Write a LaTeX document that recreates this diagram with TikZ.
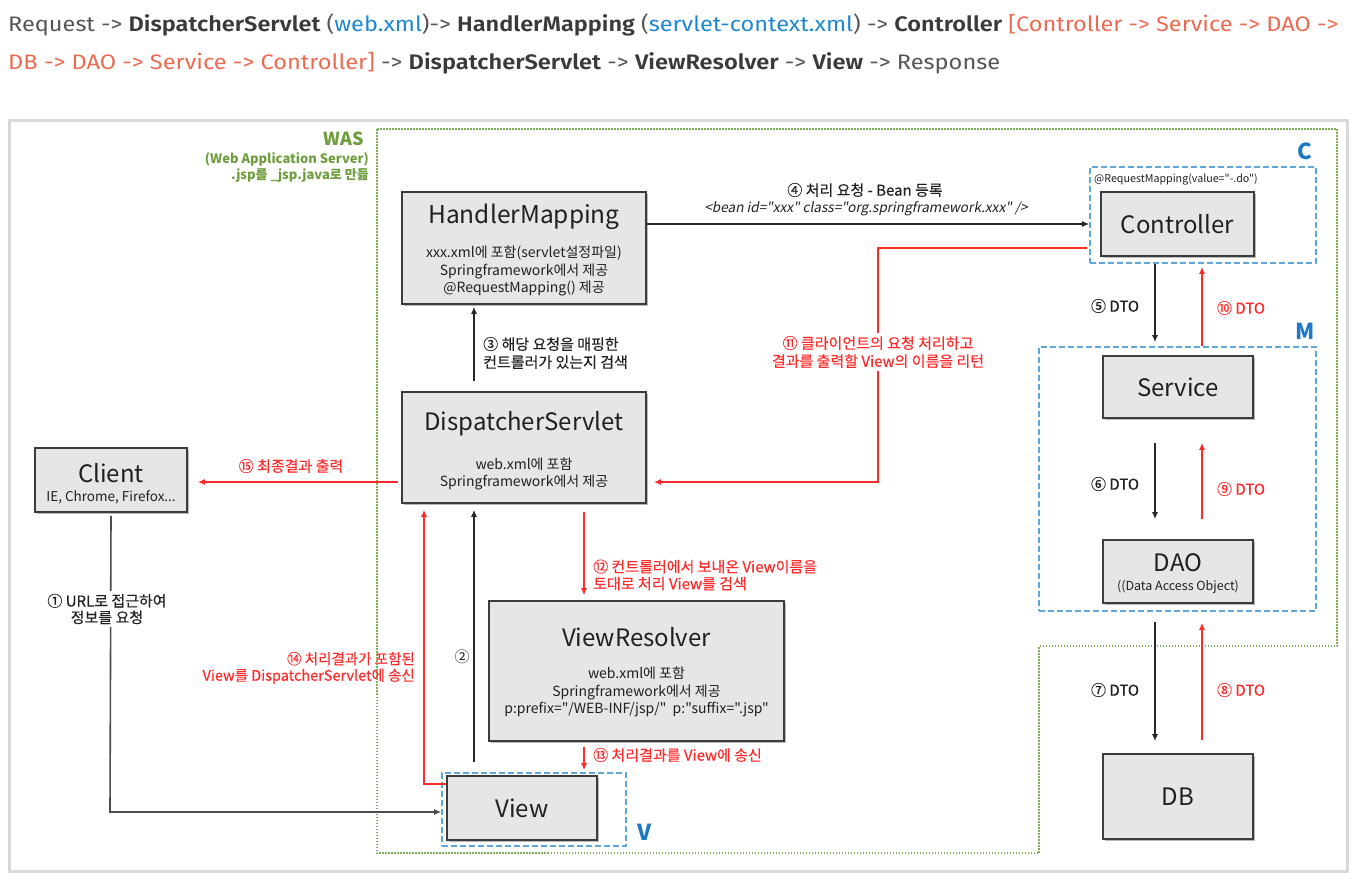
\documentclass[tikz,border=0pt]{standalone}
\usepackage{fontspec}
\usepackage{graphicx}
\setmainfont{Noto Sans CJK KR}
\newfontfamily\topf[BoldFont={Fira Sans SemiBold}]{Fira Sans}
\newfontfamily\kr{Noto Sans CJK KR}
\newfontfamily\krb[FakeBold=0.3]{Noto Sans CJK KR}
\newfontfamily\krit[FakeSlant=0.2]{Noto Sans CJK KR}
\usetikzlibrary{arrows.meta,shadows}
\definecolor{tg}{HTML}{555555}
\definecolor{tb}{HTML}{3A3A3A}
\definecolor{tblue}{HTML}{1E88D0}
\definecolor{tred}{HTML}{EC6A50}
\definecolor{framec}{HTML}{D8D8D8}
\definecolor{wasg}{HTML}{6E9E3E}
\definecolor{wasdot}{HTML}{7DAF58}
\definecolor{boxf}{HTML}{E6E6E6}
\definecolor{boxd}{HTML}{3C3C3C}
\definecolor{dblue}{HTML}{5DA7DC}
\definecolor{lblue}{HTML}{1D79C6}
\definecolor{rd}{HTML}{FF2A2A}
\definecolor{txt}{HTML}{202020}
\begin{document}
\begin{tikzpicture}[x=1pt,y=-1pt,
  gbox/.style={draw=boxd, fill=boxf, line width=1.6pt, inner sep=0pt, drop shadow={shadow xshift=1.5pt, shadow yshift=-1.5pt, fill=black!45, opacity=0.6}},
  bdash/.style={draw=dblue, dash pattern=on 6pt off 3pt, line width=1.6pt, inner sep=0pt},
  ttl/.style={font=\kr\fontsize{24}{28}\selectfont, text=txt, inner sep=0pt},
  sub/.style={font=\kr\fontsize{14}{17.5}\selectfont, align=center, text=txt, inner sep=0pt},
  blk/.style={draw=black!85, line width=1.3pt, -{Latex[length=7pt,width=6pt]}},
  redl/.style={draw=rd, line width=1.3pt, -{Latex[length=7pt,width=6pt]}},
  lbl/.style={font=\krb\fontsize{15}{18}\selectfont, text=txt, inner sep=1pt},
  rlbl/.style={lbl, text=rd},
  lettr/.style={font=\kr\bfseries\fontsize{22}{26}\selectfont, text=lblue, inner sep=0pt}
]
\useasboundingbox (0,0) rectangle (1370,883);
% header text
\node[anchor=west, inner sep=0pt] (line1) at (8,25) {\resizebox{1330pt}{\height}{\topf\fontsize{21}{25}\selectfont\color{tg}Request -> {\bfseries\color{tb}DispatcherServlet} ({\color{tblue}web.xml})-> {\bfseries\color{tb}HandlerMapping} ({\color{tblue}servlet-context.xml}) -> {\bfseries\color{tb}Controller} {\color{tred}[Controller -> Service -> DAO ->}}};
\node[anchor=west, inner sep=0pt] (line2) at (8,63) {\resizebox{992pt}{\height}{\topf\fontsize{21}{25}\selectfont\color{tg}{\color{tred}DB -> DAO -> Service -> Controller]} -> {\bfseries\color{tb}DispatcherServlet} -> {\bfseries\color{tb}ViewResolver} -> {\bfseries\color{tb}View} -> Response}};
% outer frame
\draw[draw=framec, line width=3pt] (9,120) rectangle (1347,871);
% WAS region
\draw[draw=wasdot, line width=1.5pt, dash pattern=on 1.5pt off 1.5pt] (377,129) -- (1337,129) -- (1337,646) -- (1039,646) -- (1039,853) -- (377,853) -- cycle;
\node[anchor=east, font=\kr\bfseries\fontsize{18}{20}\selectfont, text=wasg, inner sep=0pt] (was) at (364,139) {WAS};
\node[anchor=north east, align=right, font=\kr\bfseries\fontsize{13}{16}\selectfont, text=wasg, inner sep=0pt] (wasd) at (369,152) {(Web Application Server)\\.jsp를 \_jsp.java로 만듦};
% dashed groups
\node[bdash, minimum width=226, minimum height=96] (cdash) at (1203,215) {};
\node[bdash, minimum width=277, minimum height=264] (mdash) at (1177.5,479) {};
\node[bdash, minimum width=184, minimum height=73] (vdash) at (534,809.5) {};
\node[lettr] (cl) at (1305,151) {C};
\node[lettr] (ml) at (1305,331) {M};
\node[lettr] (vl) at (645,832) {V};
\node[anchor=west, font=\kr\fontsize{10.7}{12}\selectfont, text=txt, inner sep=0pt] (rmap) at (1094,179) {@RequestMapping(value="-.do")};
% boxes
\node[gbox, minimum width=244, minimum height=112] (hm) at (524,248) {};
\node[gbox, minimum width=244, minimum height=111] (ds) at (524,447.5) {};
\node[gbox, minimum width=152, minimum height=64] (client) at (111,480) {};
\node[gbox, minimum width=295, minimum height=140] (vr) at (636.5,671) {};
\node[gbox, minimum width=150, minimum height=64] (view) at (522,808) {};
\node[gbox, minimum width=153, minimum height=64] (ctrl) at (1177.5,224) {};
\node[gbox, minimum width=150, minimum height=62] (svc) at (1178,387) {};
\node[gbox, minimum width=150, minimum height=63] (dao) at (1178,571.5) {};
\node[gbox, minimum width=150, minimum height=85] (db) at (1178,796.5) {};
% box texts
\node[ttl, font=\kr\fontsize{24.5}{28}\selectfont] (hmT) at (524,217) {HandlerMapping};
\node[sub] (hmS) at (524,271) {xxx.xml에 포함(servlet설정파일)\\Springframework에서 제공\\@RequestMapping() 제공};
\node[ttl] (dsT) at (524,424) {DispatcherServlet};
\node[sub] (dsS) at (524,474) {web.xml에 포함\\Springframework에서 제공};
\node[ttl] (clT) at (111,473) {Client};
\node[sub, font=\kr\fontsize{13.5}{15}\selectfont] (clS) at (111,497) {IE, Chrome, Firefox...};
\node[ttl] (vrT) at (636.5,637) {ViewResolver};
\node[sub] (vrS) at (636.5,692) {web.xml에 포함\\Springframework에서 제공\\p:prefix="/WEB-INF/jsp/"\ \ p:"suffix=".jsp"};
\node[ttl] (viewT) at (522,808) {View};
\node[ttl] (ctrlT) at (1177.5,224) {Controller};
\node[ttl] (svcT) at (1178,387) {Service};
\node[ttl] (daoT) at (1178,563) {DAO};
\node[sub, font=\kr\fontsize{12.5}{14}\selectfont] (daoS) at (1178,587) {((Data Access Object)};
\node[ttl] (dbT) at (1178,797) {DB};
% coordinates
\coordinate (c3) at (474,0);
\coordinate (c14) at (424,0);
\coordinate (c12) at (584,0);
\coordinate (cb) at (1155,0);
\coordinate (cr) at (1202,0);
\coordinate (r11s) at (1087,248);
\coordinate (r11c) at (878,482);
\coordinate (v1) at (110,812);
\coordinate (v14) at (424,784);
% connectors
\draw[blk] (hm.east |- ctrl.center) -- (cdash.west |- ctrl.center);
\node[lbl] (l4a) at (865,190) {④ 처리 요청 - Bean 등록};
\node[lbl, font=\krit\fontsize{13.6}{15}\selectfont] (l4b) at (866,209) {<bean id="xxx" class="org.springframework.xxx" />};
\draw[redl] (r11s) -| (r11c) -- ([xshift=7pt]ds.east |- r11c);
\node[rlbl, fill=white, align=center, inner sep=3pt] (l11) at (878,352) {⑪ 클라이언트의 요청 처리하고\\결과를 출력할 View의 이름을 리턴};
\draw[blk, shorten <=10pt, shorten >=2pt] (ds.north -| c3) -- (hm.south -| c3);
\node[lbl, anchor=west, align=left] (l3) at (482,353) {③ 해당 요청을 매핑한\\컨트롤러가 있는지 검색};
\draw[redl, shorten <=3pt, shorten >=10pt] (ds.west |- r11c) -- (client.east |- r11c);
\node[rlbl] (l15) at (291,466) {⑮ 최종결과 출력};
\draw[draw=black!70, line width=1.6pt, -{Latex[length=7pt,width=6pt]}] ([yshift=-3pt]client.south) -- (v1) -- (vdash.west |- v1);
\node[lbl, fill=white, align=center, inner sep=3pt, font=\krb\fontsize{15}{16.5}\selectfont] (l1) at (107,609) {① URL로 접근하여\\정보를 요청};
\draw[blk, shorten <=10pt, shorten >=6pt] (vdash.north -| c3) -- (ds.south -| c3);
\node[lbl, font=\kr\fontsize{15}{16}\selectfont] (l2) at (462,657) {②};
\draw[redl, shorten >=6pt] (view.west |- v14) -- (v14) -- (ds.south -| c14);
\node[rlbl, anchor=east, align=right, font=\krb\fontsize{14.5}{16.5}\selectfont] (l14) at (416,668) {⑭ 처리결과가 포함된\\View를 DispatcherServlet에 송신};
\draw[redl, shorten <=8pt, shorten >=5pt] (ds.south -| c12) -- (vr.north -| c12);
\node[rlbl, anchor=west, align=left, font=\krb\fontsize{15}{17}\selectfont] (l12) at (592,575) {⑫ 컨트롤러에서 보내온 View이름을\\토대로 처리 View를 검색};
\draw[redl, shorten <=5pt, shorten >=2pt] (vr.south -| c12) -- (vdash.north -| c12);
\node[rlbl, anchor=west] (l13) at (592,755) {⑬ 처리결과를 View에 송신};
% right column
\draw[blk, shorten >=4pt] (cdash.south -| cb) -- (mdash.north -| cb);
\draw[redl, shorten >=3pt] (mdash.north -| cr) -- (cdash.south -| cr);
\node[lbl] (l5) at (1115,306) {⑤ DTO};
\node[rlbl] (l10) at (1241,308) {⑩ DTO};
\draw[blk, shorten <=24pt, shorten >=20pt] (svc.south -| cb) -- (dao.north -| cb);
\draw[redl, shorten <=20pt, shorten >=24pt] (dao.north -| cr) -- (svc.south -| cr);
\node[lbl] (l6) at (1115,484) {⑥ DTO};
\node[rlbl] (l9) at (1241,489) {⑨ DTO};
\draw[blk, shorten <=10pt, shorten >=12pt] (mdash.south -| cb) -- (db.north -| cb);
\draw[redl, shorten <=13pt, shorten >=11pt] (db.north -| cr) -- (mdash.south -| cr);
\node[lbl] (l7) at (1115,690) {⑦ DTO};
\node[rlbl] (l8) at (1241,690) {⑧ DTO};
\end{tikzpicture}
\end{document}
